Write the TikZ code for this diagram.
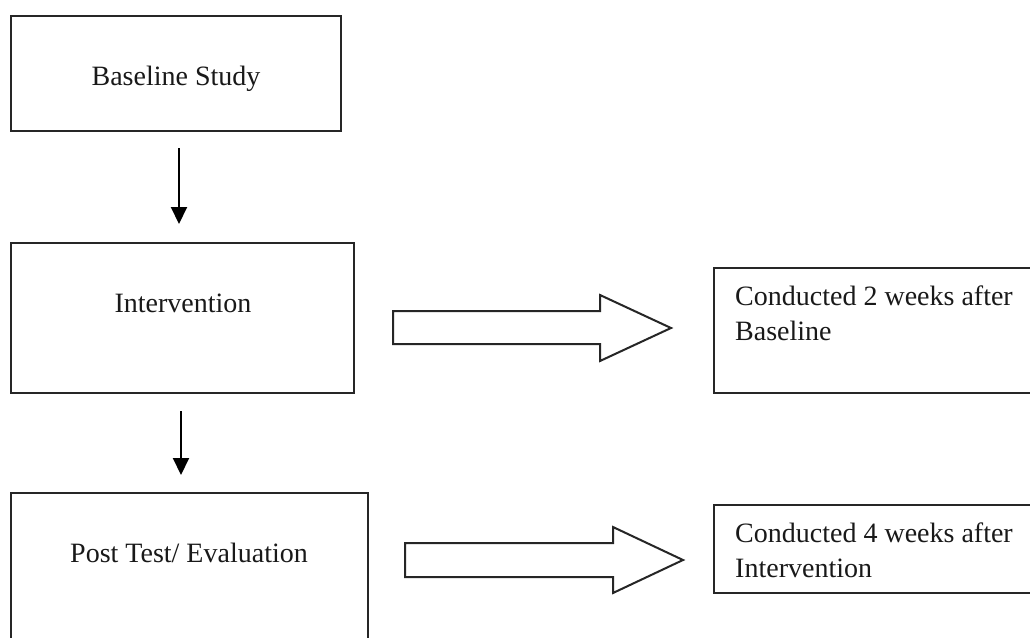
\documentclass[tikz,border=0pt]{standalone}
\usepackage{fontspec}
\setmainfont{Liberation Serif}
\usetikzlibrary{arrows.meta,calc}
\tikzset{
  box/.style={draw=black!85, line width=2pt, rectangle, inner sep=0pt},
  lbl/.style={inner sep=0pt, font=\fontsize{28}{35}\selectfont, text=black!90},
  arr/.style={draw=black, line width=2pt, -{Triangle[width=16pt,length=17pt]}},
  blockarrow/.style={draw=black!85, line width=2pt, fill=white, line join=miter}
}
\begin{document}
\begin{tikzpicture}[x=1pt,y=-1pt]
\useasboundingbox (0,0) rectangle (1030,637);
\clip (0,0) rectangle (1030,637);
\fill[white] (0,0) rectangle (1030,637);
% boxes
\node[box, minimum width=330pt, minimum height=115pt] (b1) at (176,73.5) {};
\node[box, minimum width=343pt, minimum height=150pt] (b2) at (182.5,318) {};
\node[box, minimum width=357pt, minimum height=170pt] (b3) at (189.5,578) {};
\node[box, minimum width=346pt, minimum height=125pt] (b4) at (887,330.5) {};
\node[box, minimum width=346pt, minimum height=88pt] (b5) at (887,549) {};
% texts
\node[lbl, anchor=base] (t1) at (176,85) {Baseline Study};
\node[lbl, anchor=base] (t2) at (183,312) {Intervention};
\node[lbl, anchor=base] (t3) at (189,562) {Post Test/ Evaluation};
\node[lbl, anchor=base west, align=left] (t4) at (735,340) {Conducted 2 weeks after\\Baseline};
\node[lbl, anchor=base west, align=left] (t5) at (735,577) {Conducted 4 weeks after\\Intervention};
% vertical arrows
\draw[arr] ([xshift=3pt,yshift=-16pt]b1.south) -- ([xshift=-3.5pt,yshift=18pt]b2.north);
\draw[arr] ([xshift=-1.5pt,yshift=-17pt]b2.south) -- ([xshift=-8.5pt,yshift=17pt]b3.north);
% block arrows
\draw[blockarrow] (393,311) -- (600,311) -- (600,295) -- (671,328) -- (600,361) -- (600,344) -- (393,344) -- cycle;
\draw[blockarrow] (405,543) -- (613,543) -- (613,527) -- (683,560) -- (613,593) -- (613,577) -- (405,577) -- cycle;
\end{tikzpicture}
\end{document}
